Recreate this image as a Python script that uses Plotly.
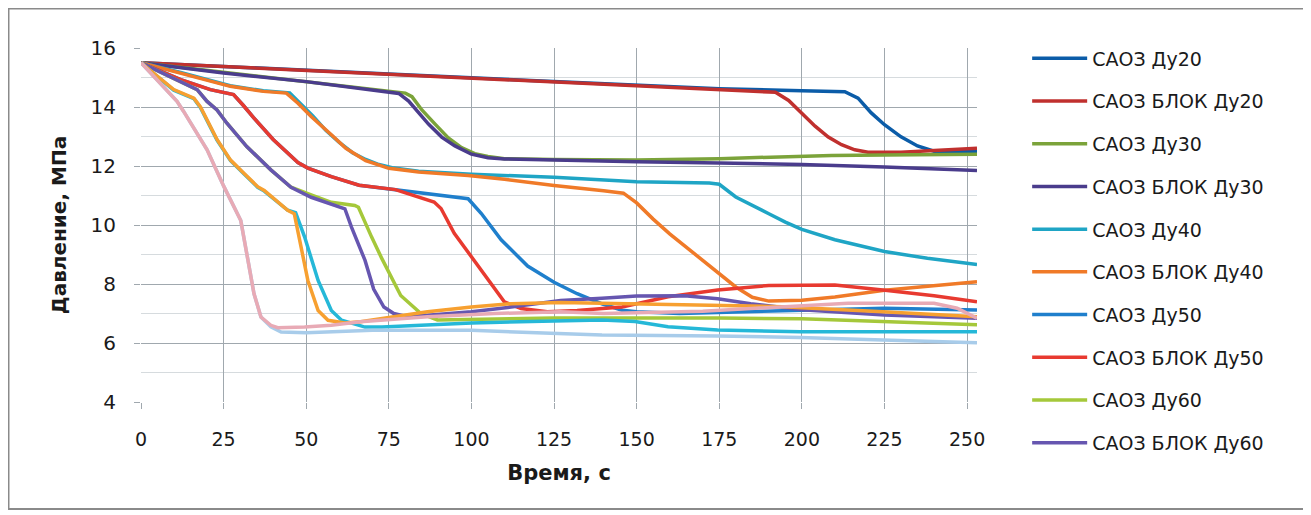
import plotly.graph_objects as go

# ---------------- data ----------------
legend_names = ["САОЗ Ду20", "САОЗ БЛОК Ду20", "САОЗ Ду30", "САОЗ БЛОК Ду30",
                "САОЗ Ду40", "САОЗ БЛОК Ду40", "САОЗ Ду50", "САОЗ БЛОК Ду50",
                "САОЗ Ду60", "САОЗ БЛОК Ду60"]
x_ticks = [0, 25, 50, 75, 100, 125, 150, 175, 200, 225, 250]
y_ticks = [4, 6, 8, 10, 12, 14, 16]

du20_x = [0, 25, 50, 75, 100, 125, 150, 175, 200, 213, 217, 221, 225, 230, 235, 240, 245, 253]
du20_y = [15.5, 15.38, 15.25, 15.12, 14.99, 14.86, 14.73, 14.62, 14.55, 14.52, 14.3, 13.8, 13.4, 12.99, 12.68, 12.5, 12.48, 12.48]

blok20_x = [0, 25, 50, 75, 100, 125, 150, 175, 192, 196, 200, 204, 208, 212, 216, 220, 230, 240, 253]
blok20_y = [15.5, 15.37, 15.24, 15.1, 14.96, 14.83, 14.7, 14.58, 14.5, 14.22, 13.78, 13.35, 12.98, 12.72, 12.55, 12.47, 12.47, 12.52, 12.6]

du30_x = [0, 25, 50, 75, 80, 82, 85, 89, 93, 97, 101, 105, 110, 125, 150, 175, 200, 209, 225, 253]
du30_y = [15.5, 15.17, 14.86, 14.53, 14.47, 14.35, 13.9, 13.42, 12.95, 12.62, 12.42, 12.32, 12.25, 12.22, 12.2, 12.25, 12.32, 12.36, 12.37, 12.4]

blok30_x = [0, 25, 50, 75, 78, 81, 84, 87, 91, 95, 100, 105, 110, 125, 150, 175, 200, 225, 253]
blok30_y = [15.5, 15.15, 14.86, 14.52, 14.46, 14.2, 13.8, 13.42, 12.98, 12.68, 12.4, 12.28, 12.24, 12.2, 12.14, 12.1, 12.05, 11.97, 11.85]

du40_x = [0, 12, 27, 37, 45, 48, 52, 56, 60, 64, 68, 72, 76, 84, 100, 125, 150, 172, 175, 180, 185, 190, 195, 200, 210, 225, 238, 253]
du40_y = [15.5, 15.17, 14.72, 14.55, 14.48, 14.15, 13.7, 13.2, 12.8, 12.45, 12.22, 12.05, 11.94, 11.82, 11.72, 11.62, 11.47, 11.42, 11.38, 10.95, 10.65, 10.38, 10.1, 9.85, 9.5, 9.1, 8.87, 8.66]

blok40_x = [0, 12, 27, 37, 44, 47.5, 51.5, 57.6, 62, 68, 75, 84, 99, 110, 125, 140, 146, 150, 155, 160, 165, 170, 175, 180, 185, 190, 200, 210, 225, 240, 253]
blok40_y = [15.5, 15.15, 14.7, 14.53, 14.47, 14.13, 13.68, 13.06, 12.6, 12.18, 11.92, 11.8, 11.68, 11.55, 11.34, 11.16, 11.08, 10.75, 10.2, 9.7, 9.25, 8.8, 8.35, 7.9, 7.55, 7.42, 7.45, 7.56, 7.79, 7.95, 8.08]

du50_x = [0, 6, 12, 21, 28, 31, 34, 40, 47.5, 50.5, 57.6, 66, 77, 88, 99, 103, 109, 117, 125, 132, 139.5, 145.6, 150, 163, 178, 200, 225, 253]
du50_y = [15.5, 15.2, 14.93, 14.59, 14.42, 14.05, 13.65, 12.9, 12.12, 11.93, 11.64, 11.35, 11.2, 11.05, 10.89, 10.39, 9.5, 8.61, 8.06, 7.67, 7.33, 7.11, 7.06, 7.0, 7.05, 7.12, 7.18, 7.12]

blok50_x = [0, 6, 12, 21, 28, 31, 34, 40, 47.5, 50.5, 57.6, 66, 77, 88.7, 90.8, 94.8, 99.9, 105, 110, 115, 123, 132, 145.6, 159.5, 174.5, 190, 200, 210, 224.5, 240, 253]
blok50_y = [15.5, 15.2, 14.93, 14.59, 14.42, 14.05, 13.65, 12.9, 12.12, 11.93, 11.64, 11.35, 11.2, 10.78, 10.56, 9.72, 8.94, 8.17, 7.39, 7.17, 7.06, 7.1, 7.22, 7.57, 7.8, 7.95, 7.97, 7.97, 7.8, 7.6, 7.4]

du60_x = [0, 10, 17, 20, 23, 26, 32, 39.3, 45.4, 51.5, 57.6, 64.7, 65.8, 69.8, 72.9, 78.6, 84.7, 89.7, 100, 125, 150, 175, 200, 225, 253]
du60_y = [15.5, 14.95, 14.59, 14.19, 13.9, 13.45, 12.66, 11.87, 11.28, 11.02, 10.77, 10.66, 10.6, 9.59, 8.86, 7.61, 7.0, 6.78, 6.8, 6.85, 6.85, 6.85, 6.82, 6.73, 6.62]

blok60_x = [0, 10, 17, 20, 23, 26, 32, 39.3, 45.4, 51.5, 61.7, 63.7, 67.8, 70.4, 73.5, 76.5, 79.6, 86.7, 100, 112, 127, 139.5, 150, 164.5, 174.5, 184.5, 200, 225, 253]
blok60_y = [15.5, 14.95, 14.59, 14.19, 13.9, 13.45, 12.66, 11.87, 11.28, 10.94, 10.55, 9.93, 8.8, 7.83, 7.22, 7.0, 6.92, 6.94, 7.06, 7.22, 7.44, 7.52, 7.59, 7.6, 7.5, 7.33, 7.13, 6.95, 6.84]

# curves drawn in the chart without a legend entry
extra_cyan_x = [0, 9.9, 16, 18, 23, 27.1, 31.2, 35.3, 37.3, 44.4, 46.8, 49.5, 53.6, 57.6, 60.7, 67.8, 72.9, 86.7, 100, 125, 139.5, 149.5, 159.5, 174.5, 199.5, 225, 253]
extra_cyan_y = [15.5, 14.57, 14.28, 13.98, 12.88, 12.18, 11.73, 11.28, 11.15, 10.5, 10.42, 9.6, 8.12, 7.1, 6.77, 6.54, 6.54, 6.61, 6.68, 6.75, 6.78, 6.73, 6.55, 6.44, 6.38, 6.38, 6.38]

extra_orange_x = [0, 9.9, 16, 18, 23, 27.1, 31.2, 35.3, 37.3, 44.4, 46.4, 48.5, 50.5, 53.6, 56.6, 61.7, 66.4, 76.5, 86.7, 100, 112, 127, 145.6, 170, 194, 224.5, 253]
extra_orange_y = [15.5, 14.59, 14.3, 14.0, 12.9, 12.2, 11.75, 11.3, 11.17, 10.5, 10.38, 9.25, 8.12, 7.1, 6.77, 6.68, 6.72, 6.89, 7.06, 7.22, 7.33, 7.37, 7.33, 7.29, 7.23, 7.06, 6.89]

extra_lblue_x = [0, 10.9, 12.9, 20, 25.1, 30.2, 32.2, 34.2, 36.3, 39.3, 42.4, 50, 70, 100, 124, 139.5, 174.5, 199.5, 224.5, 253]
extra_lblue_y = [15.5, 14.19, 13.85, 12.55, 11.3, 10.15, 8.91, 7.67, 6.88, 6.55, 6.37, 6.35, 6.43, 6.43, 6.33, 6.27, 6.24, 6.19, 6.1, 6.01]

extra_pink_x = [0, 10.9, 12.9, 20, 25.1, 30.2, 32.2, 34.2, 36.3, 39.3, 41.4, 49.5, 57.6, 66.4, 86.7, 107, 127, 140, 170, 194, 214, 240, 247, 253]
extra_pink_y = [15.5, 14.19, 13.85, 12.55, 11.3, 10.15, 8.91, 7.67, 6.88, 6.6, 6.52, 6.54, 6.6, 6.72, 6.89, 7.0, 7.06, 7.0, 7.08, 7.23, 7.35, 7.35, 7.18, 6.84]

# ---------------- styling ----------------
colors = ["#0B5CA8", "#C0302E", "#7BA33A", "#4A3C8C", "#1FA5C5",
          "#F07A28", "#1F7FCC", "#E83A30", "#A5C83A", "#6656B0"]
extra_colors = ["#25B8D8", "#F7A030", "#A8CCEA", "#E8AAB5"]

series = [(du20_x, du20_y), (blok20_x, blok20_y), (du30_x, du30_y), (blok30_x, blok30_y),
          (du40_x, du40_y), (blok40_x, blok40_y), (du50_x, du50_y), (blok50_x, blok50_y),
          (du60_x, du60_y), (blok60_x, blok60_y)]
extras = [(extra_cyan_x, extra_cyan_y), (extra_orange_x, extra_orange_y),
          (extra_lblue_x, extra_lblue_y), (extra_pink_x, extra_pink_y)]

fig = go.Figure()
for i, (xs, ys) in enumerate(series):
    fig.add_trace(go.Scatter(x=xs, y=ys, mode="lines", name=legend_names[i],
                             legendgroup=f"g{i}",
                             line=dict(color=colors[i], width=3.5)))
for j, (xs, ys) in enumerate(extras):
    fig.add_trace(go.Scatter(x=xs, y=ys, mode="lines", showlegend=False,
                             line=dict(color=extra_colors[j], width=3.5)))

fig.update_layout(
    width=1311, height=515,
    margin=dict(l=133, r=342, t=40, b=121, autoexpand=False),
    paper_bgcolor="white", plot_bgcolor="white",
    font=dict(family="DejaVu Sans", color="#1a1a1a"),
    showlegend=True,
    legend=dict(x=1.06, y=1.024, xanchor="left", yanchor="top",
                font=dict(family="DejaVu Sans", size=19, color="#1a1a1a"),
                tracegroupgap=15, itemwidth=55, maxheight=500,
                bgcolor="rgba(0,0,0,0)"),
    xaxis=dict(range=[0, 253], tickvals=x_ticks, ticks="outside", ticklen=6,
               tickcolor="#A0A8AE", showgrid=True, gridcolor="#A0A8AE", gridwidth=1,
               zeroline=False, showline=False, ticklabelstandoff=14, automargin=False,
               tickfont=dict(family="DejaVu Sans", size=19, color="#1a1a1a"),
               title=dict(text="<b>Время, с</b>", standoff=16,
                          font=dict(family="DejaVu Sans", size=21, color="#1a1a1a"))),
    yaxis=dict(range=[4, 16], tickvals=y_ticks, ticks="outside", ticklen=6,
               tickcolor="#A0A8AE", showgrid=True, gridcolor="#A0A8AE", gridwidth=1,
               minor=dict(dtick=1, showgrid=True, gridcolor="#D6DBDE", ticks=""),
               zeroline=False, showline=False, ticklabelstandoff=14, automargin=False,
               tickfont=dict(family="DejaVu Sans", size=20, color="#1a1a1a"),
               title=dict(text="<b>Давление, МПа</b>", standoff=18,
                          font=dict(family="DejaVu Sans", size=20, color="#1a1a1a"))),
)

# outer chart border
fig.add_shape(type="rect", xref="paper", yref="paper",
              x0=-0.1585, x1=1.3935, y0=-0.3023, y1=1.1116,
              line=dict(color="#8A8A8A", width=2), fillcolor="rgba(0,0,0,0)", layer="below")

fig.write_html("out.html")
